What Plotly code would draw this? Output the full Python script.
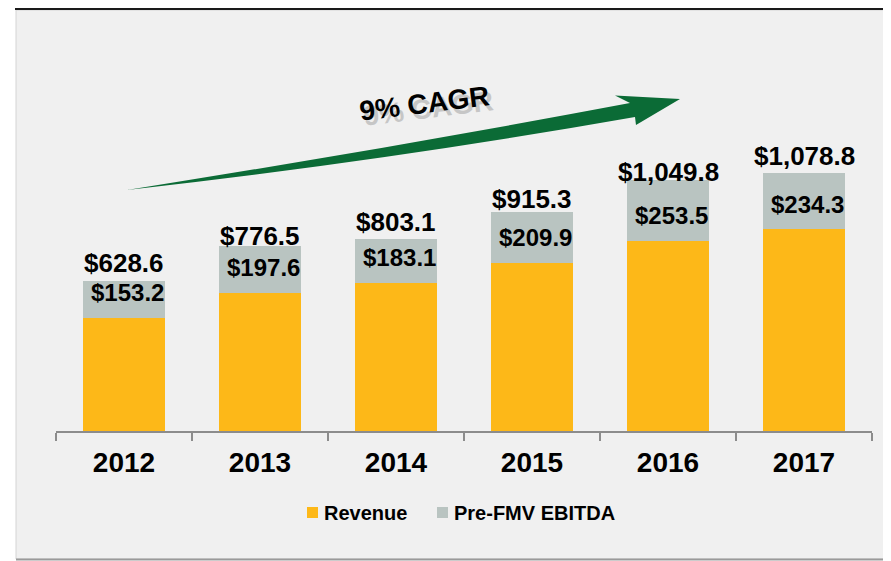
import plotly.graph_objects as go

years = ["2012", "2013", "2014", "2015", "2016", "2017"]
revenue = [628.6, 776.5, 803.1, 915.3, 1049.8, 1078.8]
ebitda = [153.2, 197.6, 183.1, 209.9, 253.5, 234.3]
series_names = ["Revenue", "Pre-FMV EBITDA"]
cagr_text = "9% CAGR"

# styling
ORANGE = "#FDB818"
GREY = "#B9C4C1"
GREEN = "#0B6B36"
FONT = "Liberation Sans, Arial, sans-serif"
OFF = 8  # page body margin
W, H = 891 - OFF, 561 - OFF
ML, MR, MT, MB = 48, 19, 52, 130
YMAX = 1554
total_nudge = [18, 10, 17, 13, 8, 17]  # px above bar top (text centre)

pw = W - ML - MR
ph = H - MT - MB


def px(x):
    return (x - OFF - ML) / pw


def py(y):
    return (H - MB - (y - OFF)) / ph


other = [r - e for r, e in zip(revenue, ebitda)]

fig = go.Figure()
fig.add_trace(go.Bar(x=years, y=other, name=series_names[0], marker_color=ORANGE,
                     marker_line_width=0, width=0.6, showlegend=False))
fig.add_trace(go.Bar(x=years, y=ebitda, name=series_names[1], marker_color=GREY,
                     marker_line_width=0, width=0.6, showlegend=False))

ann = []
for i, yr in enumerate(years):
    ann.append(dict(x=i, y=revenue[i], xref="x", yref="y", text=f"${revenue[i]:,.1f}",
                    showarrow=False, yanchor="middle", yshift=total_nudge[i],
                    font=dict(family=FONT, size=26, color="#000", weight=700)))
    ann.append(dict(x=i, y=other[i], xref="x", yref="y", text=f"${ebitda[i]:,.1f}",
                    showarrow=False, yanchor="middle", yshift=25, xshift=3,
                    font=dict(family=FONT, size=24, color="#000", weight=700)))

# CAGR text with shadow
ann.append(dict(x=px(428), y=py(108), xref="paper", yref="paper", text=cagr_text,
                showarrow=False, textangle=-7, xanchor="center", yanchor="middle",
                font=dict(family=FONT, size=28, color="#C6C6C6", weight=700)))
ann.append(dict(x=px(424), y=py(103), xref="paper", yref="paper", text=cagr_text,
                showarrow=False, textangle=-7, xanchor="center", yanchor="middle",
                font=dict(family=FONT, size=28, color="#000", weight=700)))

shapes = []
# panel background
shapes.append(dict(type="rect", xref="paper", yref="paper", layer="below",
                   x0=px(16), x1=px(887), y0=py(559), y1=py(10),
                   fillcolor="#F0F0F0", line=dict(color="#D4D4D4", width=1)))
shapes.append(dict(type="line", xref="paper", yref="paper", layer="below",
                   x0=px(16), x1=px(888), y0=py(559.5), y1=py(559.5),
                   line=dict(color="#9A9A9A", width=2)))
shapes.append(dict(type="line", xref="paper", yref="paper", layer="below",
                   x0=px(887.5), x1=px(887.5), y0=py(10), y1=py(560),
                   line=dict(color="#B0B0B0", width=2)))
# top black rule
shapes.append(dict(type="line", xref="paper", yref="paper",
                   x0=px(15), x1=px(889), y0=py(8.5), y1=py(8.5),
                   line=dict(color="#1A1A1A", width=3)))

# legend (custom)
legend_items = [(series_names[0], ORANGE, 307), (series_names[1], GREY, 437)]
for name, col, lx in legend_items:
    shapes.append(dict(type="rect", xref="paper", yref="paper",
                       x0=px(lx), x1=px(lx + 11), y0=py(518), y1=py(507),
                       fillcolor=col, line=dict(width=0)))
    ann.append(dict(x=px(lx + 15), y=py(512.5), xref="paper", yref="paper", text=name,
                    showarrow=False, xanchor="left", yanchor="middle",
                    font=dict(family=FONT, size=20, color="#000", weight=700)))

# tapered green arrow
def P(x, y):
    return f"{px(x):.5f},{py(y):.5f}"

path = ("M " + P(127, 190) +
        " Q " + P(380, 150) + " " + P(630, 103) +
        " L " + P(615, 95.5) +
        " L " + P(680, 99) +
        " L " + P(636, 125) +
        " L " + P(635, 117) +
        " Q " + P(385, 161) + " " + P(127, 190) + " Z")
shapes.append(dict(type="path", xref="paper", yref="paper", path=path,
                   fillcolor=GREEN, line=dict(width=0)))

fig.update_layout(
    width=W, height=H,
    margin=dict(l=ML, r=MR, t=MT, b=MB, autoexpand=False),
    paper_bgcolor="white",
    plot_bgcolor="rgba(0,0,0,0)",
    barmode="stack",
    bargap=0.4,
    font=dict(family=FONT, color="#000"),
    showlegend=False,
    xaxis=dict(type="category", range=[-0.5, 5.5], showline=True, linecolor="#8C8C8C",
               linewidth=2, ticks="outside", tickson="boundaries", ticklen=8, tickwidth=2,
               tickcolor="#8C8C8C", showgrid=False, zeroline=False, tickangle=0,
               automargin=False, ticklabelstandoff=5,
               tickfont=dict(family=FONT, size=28, color="#000", weight=700)),
    yaxis=dict(range=[0, YMAX], visible=False, showgrid=False, zeroline=False),
    annotations=ann,
    shapes=shapes,
)

fig.write_html("out.html")
